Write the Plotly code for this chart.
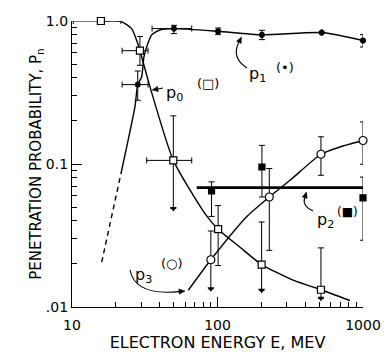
import numpy as np
import plotly.graph_objects as go

nan = float("nan")

# ---------------- data ----------------
# p0 (open squares)
p0_E = [15.8, 29.3, 49.7, 101, 201, 514]
p0_P = [1.0, 0.62, 0.106, 0.035, 0.0198, 0.0132]
p0_hi = [nan, 0.78, 0.217, 0.0512, 0.0393, 0.0259]
p0_lo = [nan, 0.49, 0.0489, 0.0195, 0.0131, 0.0115]
p0_arrow = [nan, nan, 0.0489, nan, 0.0131, 0.0115]   # upper limits drawn as down arrows
p0_Elo = [10.2, 22.1, 32.6, nan, nan, nan]
p0_Ehi = [21.7, 33.3, 66.5, nan, nan, nan]
p0_curve_E = [15.8, 21.4, 25.7, 27.8, 29.3, 34.4, 49.7, 82, 101, 142, 201, 331, 514, 813]
p0_curve_P = [1.0, 1.0, 0.885, 0.733, 0.62, 0.345, 0.106, 0.045, 0.035, 0.0263, 0.0198, 0.0154, 0.0132, 0.0111]

# p1 (filled circles)
p1_E = [28.3, 50.2, 101, 202, 520, 1000]
p1_P = [0.359, 0.885, 0.847, 0.80, 0.83, 0.73]
p1_hi = [0.447, 0.933, 0.894, 0.861, nan, 0.803]
p1_lo = [0.279, 0.816, 0.803, 0.741, nan, 0.658]
p1_Elo = [22.1, 35.5, nan, nan, nan, nan]
p1_Ehi = [33.3, 66.5, nan, nan, nan, nan]
p1_dash_E = [16.0, 21.95]
p1_dash_P = [0.0206, 0.0904]
p1_curve_E = [21.95, 27.1, 28.3, 30.1, 31.2, 33.2, 35.3, 40.2, 50.2, 101, 202, 520, 1000]
p1_curve_P = [0.0904, 0.253, 0.359, 0.406, 0.56, 0.695, 0.80, 0.865, 0.885, 0.847, 0.80, 0.83, 0.73]

# p2 (filled squares)
p2_E = [91, 202, 1000]
p2_P = [0.0648, 0.0953, 0.058]
p2_hi = [0.075, 0.135, 0.081]
p2_lo = [0.043, 0.0588, 0.0293]
p2_line_E = [72, 1000]
p2_line_P = [0.0684, 0.0684]

# p3 (open circles)
p3_E = [90, 227, 514, 1000]
p3_P = [0.0214, 0.0588, 0.117, 0.146]
p3_hi = [0.034, 0.093, 0.155, 0.197]
p3_lo = [0.0134, 0.0249, 0.0834, 0.0996]
p3_arrow = [0.0134, nan, nan, nan]
p3_curve_E = [63, 90, 158, 227, 315, 514, 694, 1000]
p3_curve_P = [0.0131, 0.0214, 0.0426, 0.0588, 0.0769, 0.117, 0.1315, 0.146]

x_major = [10, 100, 1000]
x_major_text = ["10", "100", "1000"]
y_major = [0.01, 0.1, 1.0]
y_major_text = [".01", "0.1", "1.0"]

# ---------------- helpers ----------------
def errs(P, hi, lo):
    P = np.array(P, float); hi = np.array(hi, float); lo = np.array(lo, float)
    return (hi - P).tolist(), (P - lo).tolist()

def xerrs(E, Elo, Ehi):
    E = np.array(E, float)
    return (np.array(Ehi, float) - E).tolist(), (E - np.array(Elo, float)).tolist()

BLACK = "black"
fig = go.Figure()

# curves
curve_style = dict(color=BLACK, width=1.4, shape="spline", smoothing=0.6)
fig.add_trace(go.Scatter(x=p0_curve_E, y=p0_curve_P, mode="lines", line=curve_style, hoverinfo="skip"))
fig.add_trace(go.Scatter(x=p1_curve_E, y=p1_curve_P, mode="lines", line=curve_style, hoverinfo="skip"))
fig.add_trace(go.Scatter(x=p1_dash_E, y=p1_dash_P, mode="lines",
                         line=dict(color=BLACK, width=1.4, dash="5px,4px"), hoverinfo="skip"))
fig.add_trace(go.Scatter(x=p3_curve_E, y=p3_curve_P, mode="lines", line=curve_style, hoverinfo="skip"))
fig.add_trace(go.Scatter(x=p2_line_E, y=p2_line_P, mode="lines", line=dict(color=BLACK, width=2.6), hoverinfo="skip"))

def pts(E, P, hi, lo, symbol, size, fill, Elo=None, Ehi=None):
    up, dn = errs(P, hi, lo)
    kw = {}
    if Elo is not None:
        xr, xl = xerrs(E, Elo, Ehi)
        kw["error_x"] = dict(type="data", symmetric=False, array=xr, arrayminus=xl,
                             color=BLACK, thickness=1, width=3)
    fig.add_trace(go.Scatter(
        x=E, y=P, mode="markers", cliponaxis=False,
        marker=dict(symbol=symbol, size=size, color=fill, line=dict(color=BLACK, width=1.2)),
        error_y=dict(type="data", symmetric=False, array=up, arrayminus=dn,
                     color=BLACK, thickness=1, width=3),
        **kw))

def arrowheads(E, tips):
    fig.add_trace(go.Scatter(x=E, y=tips, mode="markers", cliponaxis=False, hoverinfo="skip",
                             marker=dict(symbol="triangle-down", size=6, color=BLACK, line=dict(width=0))))

pts(p2_E, p2_P, p2_hi, p2_lo, "square", 6, BLACK)
pts(p1_E, p1_P, p1_hi, p1_lo, "circle", 5, BLACK, p1_Elo, p1_Ehi)
pts(p0_E, p0_P, p0_hi, p0_lo, "square", 7, "white", p0_Elo, p0_Ehi)
pts(p3_E, p3_P, p3_hi, p3_lo, "circle", 8, "white")
arrowheads(p0_E, p0_arrow)
arrowheads(p3_E, p3_arrow)

annotations = []

# pixel -> paper helpers for labels
L, R, T, B, W, H = 72, 21, 21, 45, 384, 352
PW, PH = W - L - R, H - T - B
def px(x): return (x - L) / PW
def py(y): return (H - B - y) / PH

FONT = "DejaVu Sans"
def lab(x, y, text, size=16, xanchor="left"):
    annotations.append(dict(x=px(x), y=py(y), xref="paper", yref="paper", text=text, showarrow=False,
                            xanchor=xanchor, yanchor="middle", font=dict(family=FONT, size=size, color=BLACK)))

lab(164, 93, "p<sub>0</sub>")
lab(208, 83, "(□)", 13, "center")
lab(247, 74, "p<sub>1</sub>")
lab(285, 67, "(•)", 13, "center")
lab(315, 220, "p<sub>2</sub>")
lab(347, 212, "(■)", 12, "center")
lab(133, 275, "p<sub>3</sub>")
lab(172, 263, "(○)", 13, "center")

shapes = []

def qpath(p0, c, p1):
    return "M {},{} Q {},{} {},{}".format(px(p0[0]), py(p0[1]), px(c[0]), py(c[1]), px(p1[0]), py(p1[1]))

def pointer(start, ctrl, tip, length=6, half=2.6):
    # curved (or straight) shaft plus filled triangular head, pixel coords -> paper
    d = np.array(tip, float) - np.array(ctrl, float)
    d /= np.linalg.norm(d)
    n = np.array([-d[1], d[0]])
    base = np.array(tip, float) - d * length
    a = base + n * half
    b = base - n * half
    shapes.append(dict(type="path", xref="paper", yref="paper",
                       path=qpath(start, ctrl, tuple(base)), line=dict(color=BLACK, width=1.1)))
    shapes.append(dict(type="path", xref="paper", yref="paper",
                       path="M {},{} L {},{} L {},{} Z".format(px(tip[0]), py(tip[1]), px(a[0]), py(a[1]),
                                                              px(b[0]), py(b[1])),
                       fillcolor=BLACK, line=dict(color=BLACK, width=0.5)))

pointer((163, 88), (158, 89), (152, 90))
pointer((247, 68), (231, 58), (241.5, 37))
pointer((313, 211), (302, 206), (306.5, 192))
pointer((130, 270), (135, 296), (185, 291))

axis_common = dict(type="log", showgrid=False, zeroline=False, showline=True, automargin=False,
                   linecolor=BLACK, linewidth=1.2, ticks="inside", ticklen=10, tickwidth=1.2, tickcolor=BLACK,
                   tickfont=dict(size=14, family=FONT),
                   minor=dict(ticks="inside", ticklen=5, tickwidth=1, tickcolor=BLACK, dtick="D1"))

fig.update_layout(
    template="none",
    width=W, height=H, margin=dict(l=L, r=R, t=T, b=B),
    paper_bgcolor="white", plot_bgcolor="white", showlegend=False,
    font=dict(family=FONT, size=14, color=BLACK),
    annotations=annotations, shapes=shapes,
    xaxis=dict(range=[1, 3], tickvals=x_major, ticktext=x_major_text, ticklabelstandoff=5,
               title=dict(text="ELECTRON ENERGY E, MEV", font=dict(size=16, family=FONT), standoff=6),
               **axis_common),
    yaxis=dict(range=[-2, 0], tickvals=y_major, ticktext=y_major_text,
               title=dict(text="PENETRATION PROBABILITY, P<sub>n</sub>", font=dict(size=15, family=FONT), standoff=0),
               **axis_common),
)

fig.write_html("out.html")
